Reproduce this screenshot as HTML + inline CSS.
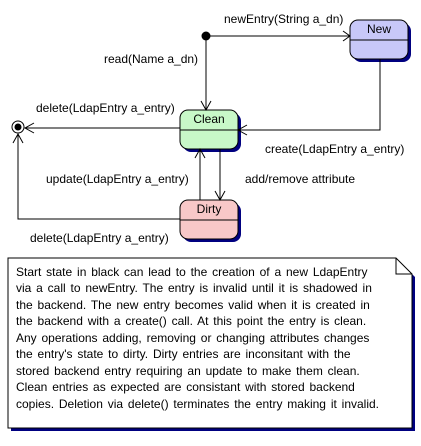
<!DOCTYPE html>
<html><head><style>
body{margin:0;background:#fff;width:421px;height:441px;overflow:hidden}
svg text{font-family:"Liberation Sans",sans-serif;font-size:12px;fill:#000}
</style></head><body>
<svg width="421" height="441" xmlns="http://www.w3.org/2000/svg">
<g fill="#000080">
<rect x="353" y="23" width="58" height="39" rx="8"/>
<rect x="183" y="113" width="58" height="39" rx="8"/>
<rect x="183" y="203" width="58" height="39" rx="8"/>
<path d="M11 428V261H399L415 277V431H11Z"/>
</g>
<rect x="350" y="20" width="58" height="39" rx="8" fill="#c8c8f8" stroke="#000"/>
<line x1="350" y1="40" x2="408" y2="40" stroke="#000"/>
<text x="379" y="33" text-anchor="middle">New</text>
<rect x="180" y="110" width="58" height="39" rx="8" fill="#c8f8c8" stroke="#000"/>
<line x1="180" y1="130" x2="238" y2="130" stroke="#000"/>
<text x="209" y="123" text-anchor="middle">Clean</text>
<rect x="180" y="200" width="58" height="39" rx="8" fill="#f8c8c8" stroke="#000"/>
<line x1="180" y1="220" x2="238" y2="220" stroke="#000"/>
<text x="209" y="213" text-anchor="middle">Dirty</text>
<circle cx="206" cy="36" r="4.5" fill="#000"/>
<circle cx="18" cy="127" r="6" fill="#fff" stroke="#000"/>
<circle cx="18" cy="127" r="3.5" fill="#000"/>
<g stroke="#000" fill="none">
<path d="M206 36H350M343 31L350 36L343 41"/>
<path d="M206 36V110M201 101L206 110L211 101"/>
<path d="M380 59V130H238M247 125L238 130L247 135"/>
<path d="M180 128H25M34 123L25 128L34 133"/>
<path d="M220 149V200M215 191L220 200L225 191"/>
<path d="M200 200V149M195 158L200 149L205 158"/>
<path d="M180 219H18V134M13 143L18 134L23 143"/>
<path d="M8 258H396L412 274V428H8Z" fill="#fff"/>
<path d="M396 258V274H412"/>
</g>
<text x="224" y="23">newEntry(String a_dn)</text>
<text x="104" y="63">read(Name a_dn)</text>
<text x="36" y="112">delete(LdapEntry a_entry)</text>
<text x="265" y="153">create(LdapEntry a_entry)</text>
<text x="46" y="183">update(LdapEntry a_entry)</text>
<text x="245" y="183">add/remove attribute</text>
<text x="30" y="242">delete(LdapEntry a_entry)</text>
<g style="font-size:11.5px;word-spacing:1.5px">
<text x="16" y="276">Start state in black can lead to the creation of a new LdapEntry</text>
<text x="16" y="292">via a call to newEntry.  The entry is invalid until it is shadowed in</text>
<text x="16" y="309">the backend.  The new entry becomes valid when it is created in</text>
<text x="16" y="325">the backend with a create() call.  At this point the entry is clean.</text>
<text x="16" y="342">Any operations adding, removing or changing attributes changes</text>
<text x="16" y="358">the entry's state to dirty.  Dirty entries are inconsitant with the</text>
<text x="16" y="375">stored backend entry requiring an update to make them clean.</text>
<text x="16" y="391">Clean entries as expected are consistant with stored backend</text>
<text x="16" y="408">copies.  Deletion via delete() terminates the entry making it invalid.</text>
</g>
</svg>
</body></html>
